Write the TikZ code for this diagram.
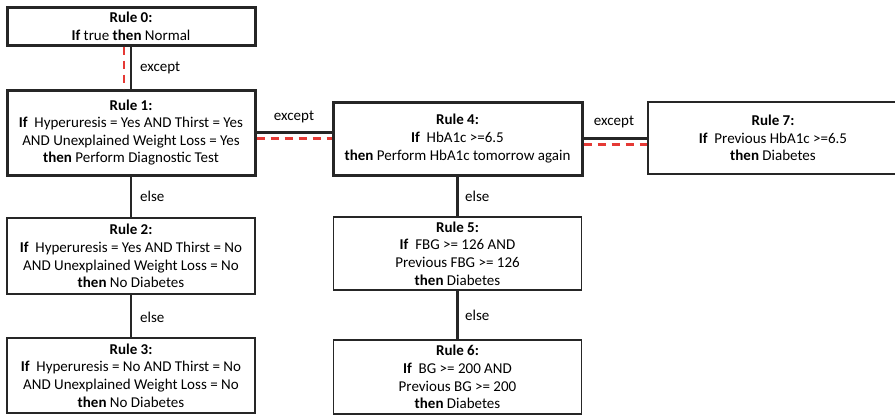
\documentclass[tikz,border=0pt]{standalone}
\usepackage{fontspec}
\setmainfont{Carlito}
\begin{document}
\begin{tikzpicture}[x=1pt,y=-1pt,
  rulebox/.style={draw=black!85, line width=1.4pt, inner sep=0pt, align=center,
    font=\fontsize{15}{17.6}\selectfont, fill=white},
  thickbox/.style={rulebox, line width=3pt},
  conn/.style={draw=black!85, line width=2.2pt},
  reddash/.style={draw={rgb,255:red,229;green,57;blue,53}, line width=2.8pt, dash pattern=on 8pt off 6pt},
  lbl/.style={font=\fontsize{15}{17.6}\selectfont, inner sep=0pt}
]
\useasboundingbox (0,0) rectangle (895,415);
\node[thickbox, minimum width=248pt, minimum height=38pt] (r0) at (131,26)
  {\textbf{Rule 0:}\\\textbf{If} true \textbf{then} Normal};
\node[thickbox, minimum width=248pt, minimum height=85pt] (r1) at (131,132.5)
  {\textbf{Rule 1:}\\\textbf{If}~ Hyperuresis = Yes AND Thirst = Yes\\AND Unexplained Weight Loss = Yes\\\textbf{then} Perform Diagnostic Test};
\node[rulebox, minimum width=248pt, minimum height=76pt] (r2) at (131,256)
  {\textbf{Rule 2:}\\\textbf{If}~ Hyperuresis = Yes AND Thirst = No\\AND Unexplained Weight Loss = No\\\textbf{then} No Diabetes};
\node[rulebox, minimum width=248pt, minimum height=75pt] (r3) at (131,375.5)
  {\textbf{Rule 3:}\\\textbf{If}~ Hyperuresis = No AND Thirst = No\\AND Unexplained Weight Loss = No\\\textbf{then} No Diabetes};
\node[thickbox, minimum width=249pt, minimum height=73pt] (r4) at (457.5,138.5)
  {\textbf{Rule 4:}\\\textbf{If}~ HbA1c >=6.5\\\textbf{then} Perform HbA1c tomorrow again};
\node[rulebox, minimum width=248pt, minimum height=73pt] (r5) at (457.5,253.5)
  {\textbf{Rule 5:}\\\textbf{If}~ FBG >= 126 AND\\Previous FBG >= 126\\\textbf{then} Diabetes};
\node[rulebox, minimum width=248pt, minimum height=74pt] (r6) at (457.5,377)
  {\textbf{Rule 6:}\\\textbf{If}~ BG >= 200 AND\\Previous BG >= 200\\\textbf{then} Diabetes};
\begin{scope}
\clip (0,0) rectangle (895,415);
\node[rulebox, minimum width=250pt, minimum height=72pt] (r7) at (773,138)
  {\textbf{Rule 7:}\\\textbf{If}~ Previous HbA1c >=6.5\\\textbf{then} Diabetes};
\end{scope}
% connectors
\draw[conn] (r0.south) -- (r1.north);
\draw[reddash] ([xshift=-7pt]r0.south) -- ([xshift=-7pt]r1.north);
\draw[conn] (r1.east) -- (r1.east -| r4.west);
\draw[reddash] ([yshift=-6pt]r1.east) -- ([yshift=-6pt]r1.east -| r4.west);
\draw[conn] (r4.east) -- (r4.east -| r7.west);
\draw[reddash] ([yshift=-6pt]r4.east) -- ([yshift=-6pt]r4.east -| r7.west);
\draw[conn] (r1.south) -- (r2.north);
\draw[conn] (r2.south) -- (r3.north);
\draw[conn] (r4.south) -- (r5.north);
\draw[conn] (r5.south) -- (r6.north);
% labels
\node[lbl, anchor=west] (l01) at (140,68) {except};
\node[lbl] (l14) at (294,117) {except};
\node[lbl] (l47) at (614,122) {except};
\node[lbl, anchor=west] (l12) at (140,196) {else};
\node[lbl, anchor=west] (l23) at (140,317) {else};
\node[lbl, anchor=west] (l45) at (465,196) {else};
\node[lbl, anchor=west] (l56) at (465,315) {else};
\end{tikzpicture}
\end{document}
